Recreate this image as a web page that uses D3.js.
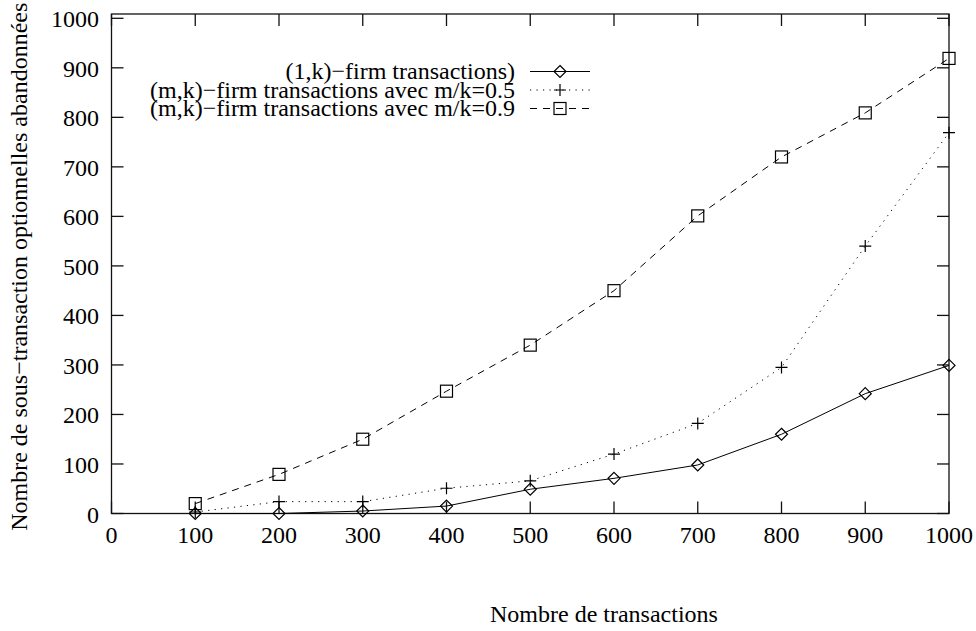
<!DOCTYPE html>
<html>
<head>
<meta charset="utf-8">
<script src="https://cdn.jsdelivr.net/npm/d3@7/dist/d3.min.js"></script>
<style>
  html, body { margin: 0; padding: 0; background: #fff; }
  svg text { font-family: "Liberation Serif", "Times New Roman", serif; fill: #000; }
</style>
</head>
<body>
<svg id="chart" width="976" height="631"></svg>
<script>
// Number of transactions (x values)
const transactions = [100, 200, 300, 400, 500, 600, 700, 800, 900, 1000];

// Abandoned optional sub-transactions per scheme
const firm1k   = [0, 0, 5, 15, 49, 71, 98, 160, 242, 299];
const firmMk05 = [3, 24, 24, 51, 66, 120, 182, 295, 540, 769];
const firmMk09 = [20, 79, 150, 247, 340, 450, 601, 720, 809, 919];

const xTicks = [0, 100, 200, 300, 400, 500, 600, 700, 800, 900, 1000];
const yTicks = [0, 100, 200, 300, 400, 500, 600, 700, 800, 900, 1000];

const seriesNames = [
  "(1,k)\u2212firm transactions)",
  "(m,k)\u2212firm transactions avec m/k=0.5",
  "(m,k)\u2212firm transactions avec m/k=0.9"
];

const series = [
  { name: seriesNames[0], values: firm1k,   dash: null,      marker: "diamond" },
  { name: seriesNames[1], values: firmMk05, dash: "1.2,5.3", marker: "plus" },
  { name: seriesNames[2], values: firmMk09, dash: "7,6",     marker: "square" }
];

const svg = d3.select("#chart");
const plotLeft = 111.5, plotRight = 949, plotTop = 14, plotBottom = 513.5;

const x = d3.scaleLinear().domain([0, 1000]).range([plotLeft, plotRight]);
const y = d3.scaleLinear().domain([0, 1008.7]).range([plotBottom, plotTop]);

const fontSize = 24;
const tickLen = 12;

// Frame
svg.append("rect")
  .attr("x", plotLeft).attr("y", plotTop)
  .attr("width", plotRight - plotLeft).attr("height", plotBottom - plotTop)
  .attr("fill", "none").attr("stroke", "#111").attr("stroke-width", 1.3);

// Inward ticks on all four sides
const tickG = svg.append("g").attr("stroke", "#111").attr("stroke-width", 1.3);
xTicks.forEach(t => {
  tickG.append("line").attr("x1", x(t)).attr("x2", x(t)).attr("y1", plotBottom).attr("y2", plotBottom - tickLen);
  tickG.append("line").attr("x1", x(t)).attr("x2", x(t)).attr("y1", plotTop).attr("y2", plotTop + tickLen);
});
yTicks.forEach(t => {
  tickG.append("line").attr("x1", plotLeft).attr("x2", plotLeft + tickLen).attr("y1", y(t)).attr("y2", y(t));
  tickG.append("line").attr("x1", plotRight).attr("x2", plotRight - tickLen).attr("y1", y(t)).attr("y2", y(t));
});

// Tick labels
svg.append("g").selectAll("text").data(xTicks).join("text")
  .attr("x", d => x(d)).attr("y", plotBottom + 29)
  .attr("text-anchor", "middle").attr("font-size", fontSize)
  .text(d => d);
svg.append("g").selectAll("text").data(yTicks).join("text")
  .attr("x", plotLeft - 12.5).attr("y", d => y(d) + 9)
  .attr("text-anchor", "end").attr("font-size", fontSize)
  .text(d => d);

// Axis titles
svg.append("text")
  .attr("x", 490).attr("y", 622)
  .attr("text-anchor", "start").attr("font-size", fontSize)
  .text("Nombre de transactions");
svg.append("text")
  .attr("transform", `translate(27, ${(plotTop + plotBottom) / 2 + 3}) rotate(-90)`)
  .attr("text-anchor", "middle").attr("font-size", fontSize)
  .text("Nombre de sous\u2212transaction optionnelles abandonn\u00e9es");

// Marker drawing
function drawMarker(g, kind, cx, cy) {
  const s = 6;
  if (kind === "diamond") {
    g.append("path")
      .attr("d", `M${cx},${cy - s}L${cx + s},${cy}L${cx},${cy + s}L${cx - s},${cy}Z`)
      .attr("fill", "none").attr("stroke", "#000").attr("stroke-width", 1.2);
  } else if (kind === "plus") {
    g.append("path")
      .attr("d", `M${cx - s},${cy}H${cx + s}M${cx},${cy - s}V${cy + s}`)
      .attr("fill", "none").attr("stroke", "#000").attr("stroke-width", 1.2);
  } else {
    g.append("rect")
      .attr("x", cx - s).attr("y", cy - s).attr("width", 2 * s).attr("height", 2 * s)
      .attr("fill", "none").attr("stroke", "#000").attr("stroke-width", 1.2);
  }
}

const line = d3.line().x(d => x(d[0])).y(d => y(d[1]));

series.forEach(s => {
  const pts = transactions.map((t, i) => [t, s.values[i]]);
  const g = svg.append("g");
  g.append("path").datum(pts)
    .attr("d", line)
    .attr("fill", "none").attr("stroke", "#000").attr("stroke-width", 1)
    .attr("stroke-dasharray", s.dash);
  pts.forEach(p => drawMarker(g, s.marker, x(p[0]), y(p[1])));
});

// Legend
const legTextX = 515, legLineX1 = 530, legLineX2 = 590;
const legY = [71.5, 90, 108.5];
series.forEach((s, i) => {
  const g = svg.append("g");
  g.append("text")
    .attr("x", legTextX).attr("y", legY[i] + 7.5)
    .attr("text-anchor", "end").attr("font-size", fontSize)
    .text(s.name);
  g.append("line")
    .attr("x1", legLineX1).attr("x2", legLineX2)
    .attr("y1", legY[i]).attr("y2", legY[i])
    .attr("stroke", "#000").attr("stroke-width", 1)
    .attr("stroke-dasharray", s.dash);
  drawMarker(g, s.marker, (legLineX1 + legLineX2) / 2, legY[i]);
});
</script>
</body>
</html>
